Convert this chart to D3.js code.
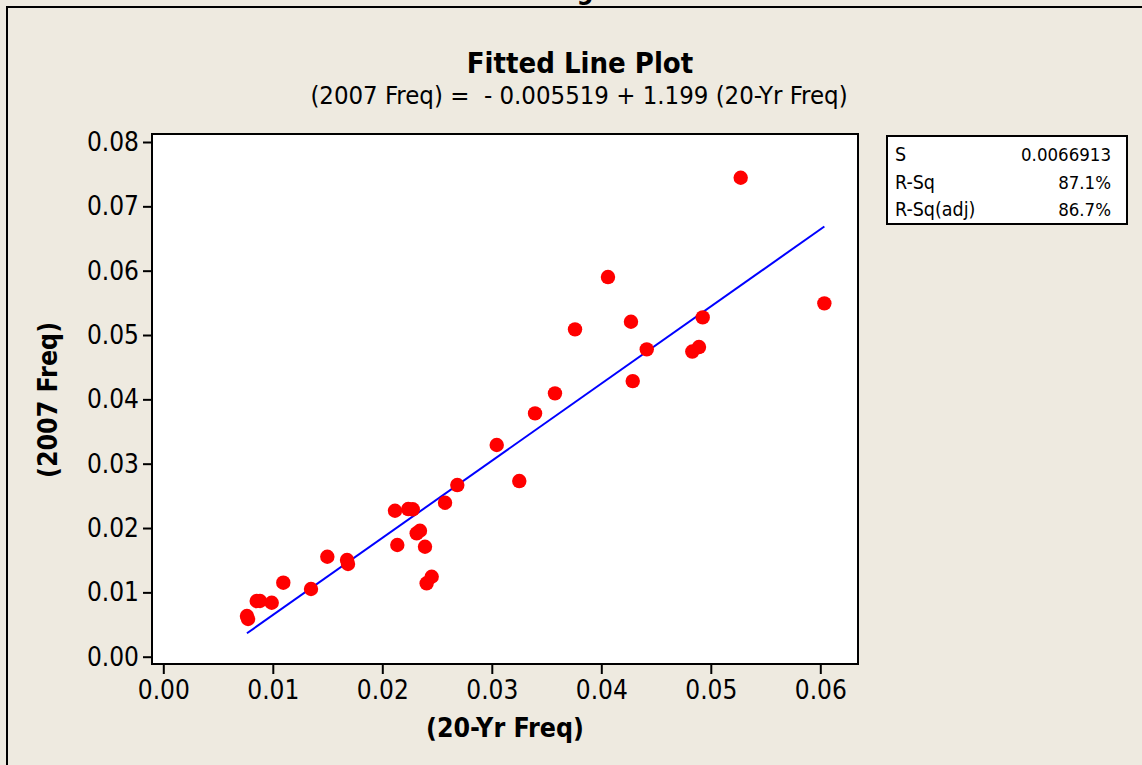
<!DOCTYPE html>
<html>
<head>
<meta charset="utf-8">
<script src="https://cdn.jsdelivr.net/npm/d3@7"></script>
<style>
  html, body { margin: 0; padding: 0; background: #EEEAE0; }
  svg { display: block; }
  text { font-family: "DejaVu Sans Condensed", "DejaVu Sans", sans-serif; font-stretch: condensed; }
</style>
</head>
<body>
<div id="chart"></div>
<script>
const w = 1142;
const h = 765;

// 20-Yr Freq (x) and 2007 Freq (y)
const freq20 = [0.00764, 0.00774, 0.00853, 0.00883, 0.00990, 0.01096, 0.01349, 0.01498, 0.01678, 0.01687,
                0.02116, 0.02137, 0.02237, 0.02278, 0.02314, 0.02344, 0.02390, 0.02405, 0.02451, 0.02573,
                0.02685, 0.03045, 0.03251, 0.03395, 0.03577, 0.03760, 0.04061, 0.04271, 0.04287, 0.04415,
                0.04831, 0.04892, 0.04926, 0.05273, 0.06037];
const freq2007 = [0.00632, 0.00586, 0.00866, 0.00866, 0.00839, 0.01150, 0.01052, 0.01554, 0.01503, 0.01441,
                  0.02269, 0.01736, 0.02295, 0.02291, 0.01918, 0.01958, 0.01709, 0.01141, 0.01243, 0.02393,
                  0.02668, 0.03290, 0.02730, 0.03782, 0.04093, 0.05088, 0.05901, 0.05206, 0.04284, 0.04777,
                  0.04743, 0.04813, 0.05274, 0.07444, 0.05492];

const intercept = -0.005519;
const slope = 1.199;

const xTicks = [0, 0.01, 0.02, 0.03, 0.04, 0.05, 0.06];
const yTicks = [0, 0.01, 0.02, 0.03, 0.04, 0.05, 0.06, 0.07, 0.08];

const statLabels = ["S", "R-Sq", "R-Sq(adj)"];
const statValues = ["0.0066913", "87.1%", "86.7%"];

// plot frame
const fx0 = 152, fx1 = 858, fy0 = 134, fy1 = 664;

const xScale = d3.scaleLinear().domain([0, 0.06]).range([163.3, 820.3]);
const yScale = d3.scaleLinear().domain([0, 0.08]).range([656.7, 142]);

const svg = d3.select("#chart")
    .append("svg")
    .attr("width", w)
    .attr("height", h);

svg.append("rect")
    .attr("width", w)
    .attr("height", h)
    .attr("fill", "#EEEAE0");

// outer frame, cut by the window on the right and bottom
svg.append("path")
    .attr("d", `M7,${h + 5} L7,7 L${w + 5},7`)
    .attr("fill", "none")
    .attr("stroke", "#000")
    .attr("stroke-width", 2);

svg.append("text")
    .text("g")
    .attr("x", 585)
    .attr("y", -1)
    .attr("text-anchor", "middle")
    .attr("font-size", 26)
    .attr("font-weight", "bold");

svg.append("text")
    .text("Fitted Line Plot")
    .attr("x", 580)
    .attr("y", 73)
    .attr("text-anchor", "middle")
    .attr("font-size", 29)
    .attr("font-weight", "bold");

svg.append("text")
    .text("(2007 Freq) =  - 0.005519 + 1.199 (20-Yr Freq)")
    .attr("x", 579)
    .attr("y", 104)
    .attr("text-anchor", "middle")
    .attr("font-size", 25.5)
    .attr("xml:space", "preserve")
    .style("white-space", "pre");

svg.append("rect")
    .attr("x", fx0)
    .attr("y", fy0)
    .attr("width", fx1 - fx0)
    .attr("height", fy1 - fy0)
    .attr("fill", "#fff")
    .attr("stroke", "#000")
    .attr("stroke-width", 2);

const xAxis = d3.axisBottom(xScale)
    .tickValues(xTicks)
    .tickFormat(d3.format(".2f"))
    .tickSize(10)
    .tickSizeOuter(0)
    .tickPadding(7);

const yAxis = d3.axisLeft(yScale)
    .tickValues(yTicks)
    .tickFormat(d3.format(".2f"))
    .tickSize(9)
    .tickSizeOuter(0)
    .tickPadding(4);

const gx = svg.append("g")
    .attr("transform", `translate(0, ${fy1})`)
    .call(xAxis);

const gy = svg.append("g")
    .attr("transform", `translate(${fx0}, 0)`)
    .call(yAxis);

[gx, gy].forEach((g) => {
    g.select(".domain").remove();
    g.selectAll("line").attr("stroke", "#000").attr("stroke-width", 2);
    g.selectAll("text")
        .attr("fill", "#000")
        .attr("font-size", 26)
        .attr("font-family", null);
});

svg.append("text")
    .text("(20-Yr Freq)")
    .attr("x", 505)
    .attr("y", 737)
    .attr("text-anchor", "middle")
    .attr("font-size", 26.5)
    .attr("font-weight", "bold");

svg.append("text")
    .text("(2007 Freq)")
    .attr("transform", "translate(57, 400) rotate(-90)")
    .attr("text-anchor", "middle")
    .attr("font-size", 26.5)
    .attr("font-weight", "bold");

// fitted line
const xMin = d3.min(freq20);
const xMax = d3.max(freq20);
const fit = [xMin, xMax].map((x) => [x, intercept + slope * x]);

svg.append("path")
    .datum(fit)
    .attr("d", d3.line().x((d) => xScale(d[0])).y((d) => yScale(d[1])))
    .attr("fill", "none")
    .attr("stroke", "#0000FF")
    .attr("stroke-width", 2);

svg.selectAll(".pt")
    .data(freq20)
    .enter()
    .append("circle")
    .attr("class", "pt")
    .attr("cx", (d) => xScale(d))
    .attr("cy", (d, i) => yScale(freq2007[i]))
    .attr("r", 7.2)
    .attr("fill", "#FF0000");

// stats box
const box = svg.append("g");

box.append("rect")
    .attr("x", 887)
    .attr("y", 136)
    .attr("width", 240)
    .attr("height", 88)
    .attr("fill", "#fff")
    .attr("stroke", "#000")
    .attr("stroke-width", 2);

box.selectAll(".lab")
    .data(statLabels)
    .enter()
    .append("text")
    .attr("class", "lab")
    .text((d) => d)
    .attr("x", 895)
    .attr("y", (d, i) => 161 + i * 27.5)
    .attr("font-size", 19.5);

box.selectAll(".val")
    .data(statValues)
    .enter()
    .append("text")
    .attr("class", "val")
    .text((d) => d)
    .attr("x", 1111)
    .attr("y", (d, i) => 161 + i * 27.5)
    .attr("text-anchor", "end")
    .attr("font-size", 18.5);
</script>
</body>
</html>
